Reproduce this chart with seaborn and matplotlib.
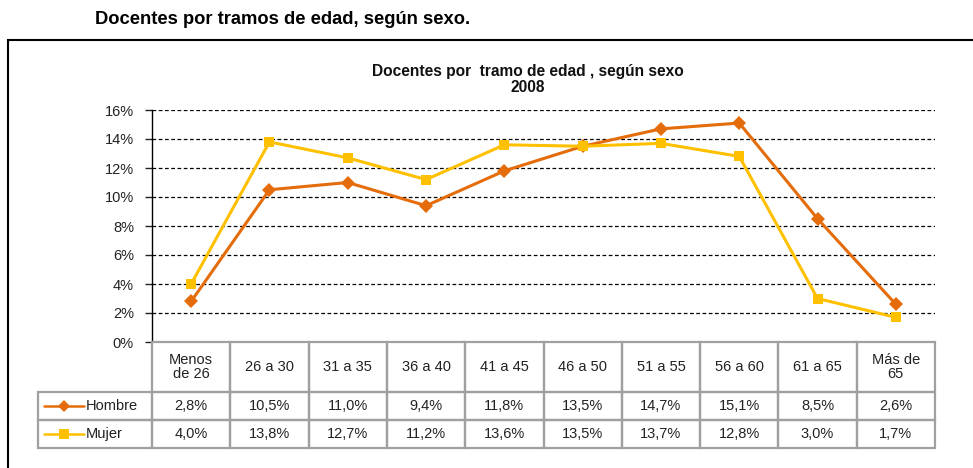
import matplotlib
matplotlib.use("Agg")
import matplotlib.pyplot as plt
import seaborn as sns
import pandas as pd
from matplotlib.patches import Rectangle
from matplotlib.ticker import PercentFormatter

sns.set_theme(style="white")
plt.rcParams["font.family"] = ["Liberation Sans", "DejaVu Sans"]

# ─── data ───
tramos = ["Menos\nde 26", "26 a 30", "31 a 35", "36 a 40", "41 a 45",
          "46 a 50", "51 a 55", "56 a 60", "61 a 65", "Más de\n65"]
hombre = [2.8, 10.5, 11.0, 9.4, 11.8, 13.5, 14.7, 15.1, 8.5, 2.6]
mujer = [4.0, 13.8, 12.7, 11.2, 13.6, 13.5, 13.7, 12.8, 3.0, 1.7]
series = ["Hombre", "Mujer"]
colors = {"Hombre": "#E46C0A", "Mujer": "#FFC000"}
markers = {"Hombre": "D", "Mujer": "s"}
y_ticks = [0, 2, 4, 6, 8, 10, 12, 14, 16]

df = pd.DataFrame({"x": list(range(len(tramos))) * 2,
                   "valor": hombre + mujer,
                   "sexo": ["Hombre"] * len(tramos) + ["Mujer"] * len(tramos)})

W, H = 973, 468
fig = plt.figure(figsize=(W / 100, H / 100), dpi=100)
ax = fig.add_axes([152 / W, 1 - 342 / H, (935 - 152) / W, (342 - 110) / H])

# ─── lines ───
for s in series:
    sub = df[df["sexo"] == s]
    sns.lineplot(data=sub, x="x", y="valor", ax=ax, color=colors[s], lw=2.2,
                 marker=markers[s], markersize=7 if s == "Hombre" else 7.5,
                 markeredgewidth=0, legend=False, zorder=3)

ax.set_xlim(-0.5, len(tramos) - 0.5)
ax.set_ylim(0, 16)
ax.set_yticks(y_ticks)
ax.yaxis.set_major_formatter(PercentFormatter(decimals=0))
ax.set_xticks([])
ax.set_xlabel("")
ax.set_ylabel("")
ax.tick_params(axis="y", labelsize=10.5, colors="#222222", left=True,
               length=5, width=1, direction="out", pad=8)
ax.yaxis.grid(True, linestyle=(0, (3, 2)), color="black", lw=0.9)
for sp in ["top", "right", "bottom"]:
    ax.spines[sp].set_visible(False)
ax.spines["left"].set_color("black")
ax.spines["left"].set_linewidth(1)

ax.set_title("Docentes por  tramo de edad , según sexo\n2008", fontsize=11.2,
             fontweight="bold", color="#111111", pad=13, x=0.48, linespacing=1.1)

# ─── data table under the axis ───
lab_w = 114
head_h, row_h = 50, 28
plot_w = 935 - 152
plot_h = 342 - 110
edge = "#A0A0A0"
xt = ax.get_xaxis_transform()   # x in data units, y in axes fraction


def cell(x0, y0, w, h, transform, txt=None):
    ax.add_patch(Rectangle((x0, y0), w, h, transform=transform, fill=False,
                           edgecolor=edge, lw=1.6, clip_on=False, zorder=4))
    if txt is not None:
        ax.text(x0 + w / 2, y0 + h / 2, txt, transform=transform, ha="center",
                va="center", fontsize=10.5, color="#222222", linespacing=1.05,
                clip_on=False)


hh = head_h / plot_h
rh = row_h / plot_h
for j, t in enumerate(tramos):
    cell(j - 0.5, -hh, 1, hh, xt, t)
for i, (s, vals) in enumerate([("Hombre", hombre), ("Mujer", mujer)]):
    y0 = -hh - rh * (i + 1)
    cell(-lab_w / plot_w, y0, lab_w / plot_w, rh, ax.transAxes)
    for j, v in enumerate(vals):
        cell(j - 0.5, y0, 1, rh, xt, f"{v:.1f}%".replace(".", ","))

    # legend key in the row label cell
    yc = y0 + rh / 2
    x1 = (44 - 152) / plot_w
    x2 = (84 - 152) / plot_w
    ax.plot([x1, (x1 + x2) / 2, x2], [yc, yc, yc], transform=ax.transAxes,
            color=colors[s], lw=1.8, clip_on=False, marker=markers[s],
            markevery=[1], markersize=6.5 if s == "Hombre" else 7, markeredgewidth=0)
    ax.text((86 - 152) / plot_w, yc, s, transform=ax.transAxes, ha="left",
            va="center", fontsize=10.5, color="#222222")

# outer frame and page title
fig.patches.append(Rectangle((8 / W, -0.05), 1.1, 1 - 40 / H + 0.05,
                             transform=fig.transFigure, fill=False,
                             edgecolor="black", lw=1.5))
fig.text(95 / W, 1 - 20 / H, "Docentes por tramos de edad, según sexo.",
         fontsize=13.2, fontweight="bold", ha="left", va="center", color="black")

fig.savefig("out.png", dpi=100)
plt.close()
